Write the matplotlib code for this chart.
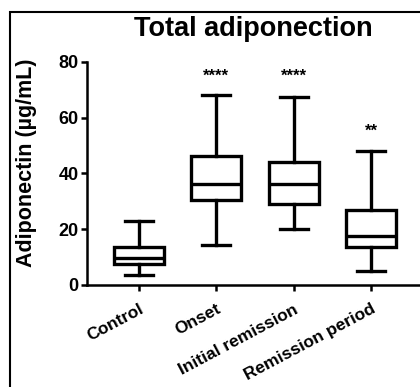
import numpy as np
import matplotlib
matplotlib.use('Agg')
from matplotlib import pyplot as plt
from matplotlib.patches import Rectangle

plt.rcParams['font.family'] = ['Liberation Sans', 'DejaVu Sans']
plt.rcParams['font.weight'] = 'bold'

################################################################################
### Data
################################################################################

groups = ['Control', 'Onset', 'Initial remission', 'Remission period']
whisk_lo = [3.6, 14.3, 20.1, 5.0]
q1 = [7.4, 30.5, 29.0, 13.5]
medians = [9.6, 36.4, 36.4, 17.7]
q3 = [13.7, 46.2, 44.1, 26.9]
whisk_hi = [23.0, 68.3, 67.5, 48.1]
stars = ['', '****', '****', '**']
star_y = [0, 75, 75, 55]

yticks = [0, 20, 40, 60, 80]

################################################################################
### Plotting
################################################################################

fig = plt.figure(figsize=(4.2, 3.87), dpi=100)
ax = fig.add_axes([0.207, 0.2636, 0.793, 0.5762])

stats = []
for i in range(len(groups)):
    stats.append({'whislo': whisk_lo[i], 'q1': q1[i], 'med': medians[i],
                  'q3': q3[i], 'whishi': whisk_hi[i], 'fliers': []})

lw = 2.4
ax.bxp(stats, positions=np.arange(len(groups)), widths=0.645,
       capwidths=0.36, patch_artist=True, showfliers=False,
       boxprops=dict(facecolor='white', edgecolor='black', linewidth=lw),
       medianprops=dict(color='black', linewidth=lw),
       whiskerprops=dict(color='black', linewidth=lw),
       capprops=dict(color='black', linewidth=lw))

for i, s in enumerate(stars):
    if s:
        ax.text(i, star_y[i], s, ha='center', va='center', fontsize=12,
                fontweight='bold')

ax.set_xlim(-0.67, 3.63)
ax.set_ylim(0, 80)
ax.set_yticks(yticks)
ax.set_yticklabels([str(v) for v in yticks], fontsize=13, fontweight='bold')
ax.set_xticks(np.arange(len(groups)))
ax.set_xticklabels(groups, rotation=28, ha='right', rotation_mode='anchor',
                   fontsize=12.5, fontweight='bold')

ax.spines['top'].set_visible(False)
ax.spines['right'].set_visible(False)
ax.spines['left'].set_linewidth(1.8)
ax.spines['bottom'].set_linewidth(1.8)
ax.tick_params(axis='both', width=1.8, length=4, direction='out', pad=2)
ax.tick_params(axis='x', pad=8)

ax.set_ylabel('Adiponectin (µg/mL)', fontsize=15.5, fontweight='bold')
ax.yaxis.set_label_coords(-0.15, 0.547)
ax.set_title('Total adiponection', fontsize=19.5, fontweight='bold', pad=19)

# frame round the panel
fig.patches.append(Rectangle((10 / 420, -0.1), 2, 1.1 - 12.5 / 387,
                             transform=fig.transFigure, fill=False,
                             edgecolor='black', linewidth=1.5))

fig.savefig('out.png', dpi=100)
